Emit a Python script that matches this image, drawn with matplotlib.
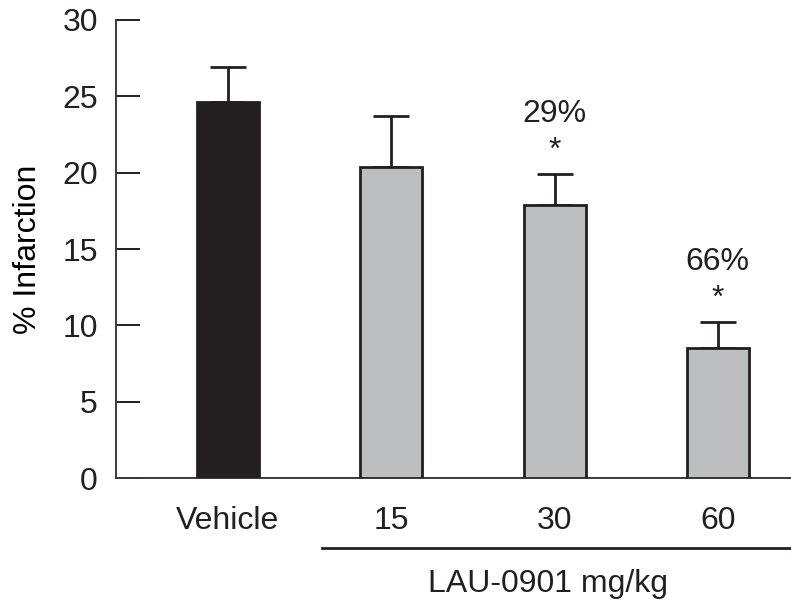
import numpy as np
import matplotlib.pyplot as plt
from matplotlib.transforms import blended_transform_factory

groups = ["Vehicle", "15", "30", "60"]
means = [24.6, 20.4, 17.9, 8.5]
errs = [2.3, 3.3, 2.0, 1.7]
bar_colors = ["#231f20", "#bcbec0", "#bcbec0", "#bcbec0"]
annot = {2: "29%", 3: "66%"}

plt.rcParams.update({
    "font.family": ["Liberation Sans", "DejaVu Sans"],
    "font.size": 23,
    "text.color": "#231f20",
    "axes.edgecolor": "#3a3a3a",
    "xtick.color": "#231f20",
    "ytick.color": "#231f20",
})

fig = plt.figure(figsize=(7.91, 6.06), dpi=100)
ax = fig.add_axes([0.1466, 0.2112, 0.8534, 0.7558])

x = np.arange(len(groups))
ax.bar(x, means, width=0.38, color=bar_colors, edgecolor="#231f20",
       linewidth=2, zorder=3)
ax.errorbar(x, means, yerr=[np.zeros(len(errs)), errs], fmt="none",
            ecolor="#231f20", elinewidth=2, capsize=13, capthick=2, zorder=2)

for i, txt in annot.items():
    top = means[i] + errs[i]
    ax.text(x[i], top + 1.5, "*", ha="center", va="center", fontsize=23)
    ax.text(x[i], top + 3.95, txt, ha="center", va="center", fontsize=23)

ax.set_xlim(-0.686, 3.448)
ax.set_ylim(0, 30)
ax.set_yticks([0, 5, 10, 15, 20, 25, 30])
ax.set_xticks(x)
ax.set_xticklabels(groups)
ax.tick_params(axis="y", direction="in", length=17, width=1.4, pad=13)
ax.tick_params(axis="x", length=0, pad=20)
ax.spines["top"].set_visible(False)
ax.spines["right"].set_visible(False)
ax.spines["left"].set_linewidth(1.4)
ax.spines["bottom"].set_linewidth(1.4)
ax.set_ylabel("% Infarction", fontsize=23, labelpad=14)

trans = blended_transform_factory(ax.transData, ax.transAxes)
ax.plot([0.576, 3.448], [-0.153, -0.153], color="#231f20", lw=2,
        transform=trans, clip_on=False)
ax.text(1.96, -0.232, "LAU-0901 mg/kg", ha="center", va="center",
        fontsize=23, transform=trans)

plt.savefig("out.png", dpi=100)
